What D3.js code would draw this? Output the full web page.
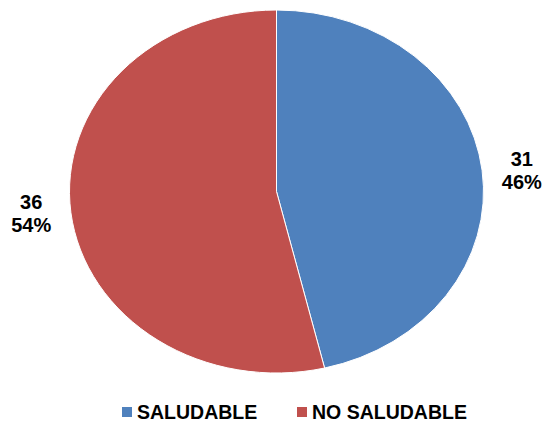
<!doctype html>
<html>
  <head>
    <meta charset="utf-8">
    <title>Saludable / No saludable</title>
    <script src="https://cdnjs.cloudflare.com/ajax/libs/d3/7.8.5/d3.min.js"></script>
    <style>
      body { margin: 0; background: #fff; }
      text { font-family: Arial, "Liberation Sans", sans-serif; font-weight: bold; fill: #000; }
    </style>
  </head>
  <body>
    <div id="chart"></div>
    <script>
      // data
      const categories = ['SALUDABLE', 'NO SALUDABLE'];
      const counts = [31, 36];
      const percents = ['46%', '54%'];
      const colors = ['#4F81BD', '#C0504D'];

      const width = 544, height = 432;
      const cx = 276.5, cy = 191.5, rx = 207, ry = 181.5;

      const svg = d3.select('#chart').append('svg')
        .attr('width', width)
        .attr('height', height);

      const pie = d3.pie().sort(null).value(d => d.value);
      const arcs = pie(categories.map((c, i) => ({ name: c, value: counts[i], pct: percents[i] })));

      const arc = d3.arc().innerRadius(0).outerRadius(ry);

      // ellipse: draw circle and stretch horizontally
      const g = svg.append('g')
        .attr('transform', `translate(${cx},${cy}) scale(${rx / ry},1)`);

      g.selectAll('path')
        .data(arcs)
        .join('path')
        .attr('d', arc)
        .attr('fill', (d, i) => colors[i])
        .attr('stroke', '#fff')
        .attr('stroke-width', 1)
        .attr('vector-effect', 'non-scaling-stroke');

      // labels outside
      const labels = svg.selectAll('g.lbl')
        .data(arcs)
        .join('g')
        .attr('class', 'lbl')
        .attr('transform', d => {
          const a = (d.startAngle + d.endAngle) / 2;
          const x = cx + Math.sin(a) * (rx + 40);
          const y = cy - Math.cos(a) * ry + 3;
          return `translate(${x},${y})`;
        });

      labels.append('text')
        .attr('text-anchor', 'middle')
        .attr('y', -7)
        .style('font-size', '20px')
        .text(d => d.data.value);

      labels.append('text')
        .attr('text-anchor', 'middle')
        .attr('y', 16)
        .style('font-size', '20px')
        .text(d => d.data.pct);

      // legend
      const legendX = [122, 297];
      const legend = svg.selectAll('g.leg')
        .data(categories)
        .join('g')
        .attr('class', 'leg')
        .attr('transform', (d, i) => `translate(${legendX[i]},407)`);

      legend.append('rect')
        .attr('width', 10)
        .attr('height', 10)
        .attr('fill', (d, i) => colors[i]);

      legend.append('text')
        .attr('x', 15)
        .attr('y', 12)
        .style('font-size', '19.5px')
        .text(d => d);
    </script>
  </body>
</html>
